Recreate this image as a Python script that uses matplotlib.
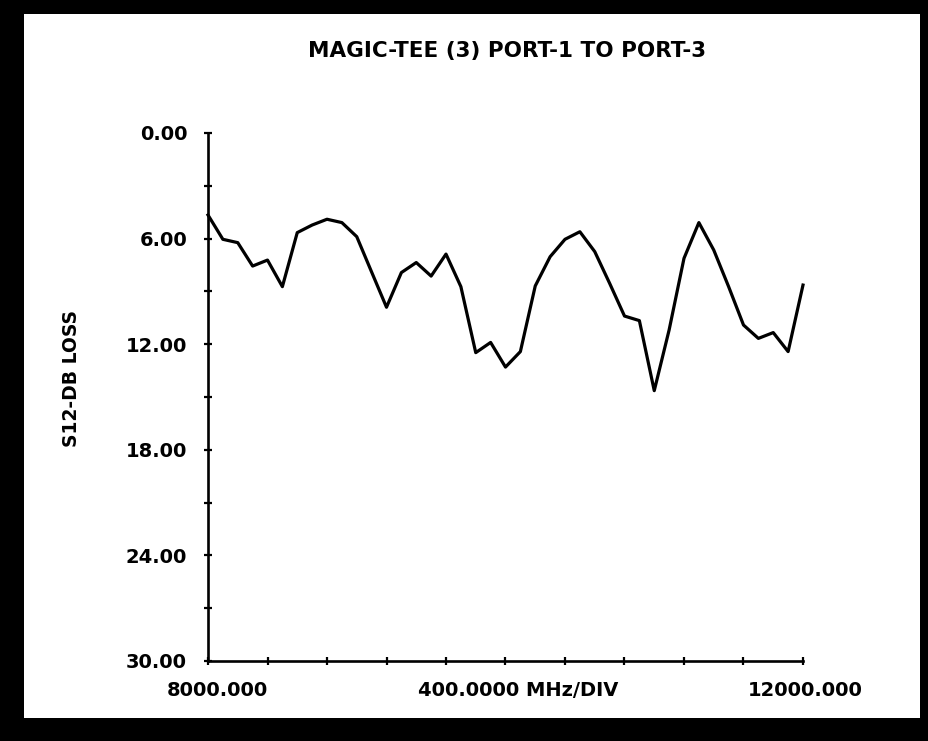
import numpy as np
import matplotlib.pyplot as plt
from matplotlib.patches import Rectangle

# S12 loss, magic-tee port 1 to port 3, 8000-12000 MHz every 100 MHz
freq_mhz = np.arange(8000, 12001, 100)
loss_db = [4.66, 6.04, 6.23, 7.56, 7.22, 8.73, 5.66, 5.23, 4.90, 5.09,
           5.89, 7.90, 9.90, 7.93, 7.36, 8.13, 6.88, 8.73, 12.48, 11.90,
           13.30, 12.42, 8.69, 7.03, 6.04, 5.61, 6.74, 8.54, 10.40, 10.66,
           14.64, 11.19, 7.12, 5.09, 6.65, 8.73, 10.91, 11.67, 11.34, 12.42,
           8.64]

y_ticks = np.arange(0, 31, 3)
y_labels = ['0.00', '', '6.00', '', '12.00', '', '18.00', '', '24.00', '', '30.00']
x_ticks = np.arange(8000, 12001, 400)

fnt = dict(family='DejaVu Sans', weight='bold')

fig = plt.figure(figsize=(9.29, 7.41), dpi=100)
fig.patch.set_facecolor('black')
# white paper inside the black scan border
fig.add_artist(Rectangle((24/929, 1-718/741), (920-24)/929, (718-14)/741,
                         transform=fig.transFigure, facecolor='white',
                         edgecolor='none', zorder=0))

ax = fig.add_axes([208/929, 1-661/741, 595/929, 528/741])
ax.set_facecolor('none')
ax.plot(freq_mhz, loss_db, color='black', lw=2.3, solid_joinstyle='round',
        clip_on=False)

ax.set_xlim(8000, 12000)
ax.set_ylim(30, 0)
for s in ['top', 'right']:
    ax.spines[s].set_visible(False)
for s in ['left', 'bottom']:
    ax.spines[s].set_linewidth(1.9)

ax.set_yticks(y_ticks)
ax.set_yticklabels(y_labels, fontsize=14, **fnt)
ax.set_xticks(x_ticks)
ax.set_xticklabels([])
ax.tick_params(direction='inout', length=6, width=1.6, pad=12)

fig.text(507/929, 1-51/741, 'MAGIC-TEE (3) PORT-1 TO PORT-3',
         ha='center', va='center', fontsize=15.5, **fnt)
fig.text(72/929, 1-378/741, 'S12-DB LOSS', rotation=90,
         ha='center', va='center', fontsize=13.5, **fnt)
fig.text(217/929, 1-690/741, '8000.000', ha='center', va='center',
         fontsize=14, **fnt)
fig.text(518/929, 1-690/741, '400.0000 MHz/DIV', ha='center', va='center',
         fontsize=14, **fnt)
fig.text(805/929, 1-690/741, '12000.000', ha='center', va='center',
         fontsize=14, **fnt)

fig.savefig('out.png', dpi=100, facecolor=fig.get_facecolor())
